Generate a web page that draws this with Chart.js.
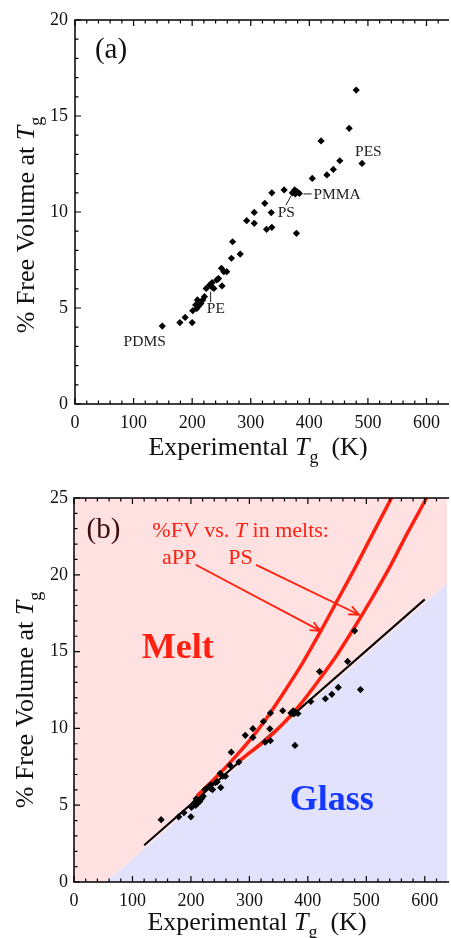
<!DOCTYPE html>
<html>
<head>
<meta charset="utf-8">
<script src="https://cdn.jsdelivr.net/npm/chart.js@4.4.1/dist/chart.umd.min.js"></script>
<style>
  body { margin: 0; background: #fff; }
  canvas { display: block; }
</style>
</head>
<body>
<canvas id="chart-a" width="451" height="470"></canvas>
<canvas id="chart-b" width="451" height="468"></canvas>
<script>
// experimental Tg (K) and % free volume at Tg, one entry per polymer
var tgK = [149, 179, 188, 200, 201, 206, 209, 211, 215, 218, 208, 221, 224, 230, 234,
           237, 234, 242, 245, 251, 250, 254, 259, 267, 269, 282, 293, 306, 306, 324,
           327, 335, 336, 336, 357, 371, 375, 376, 379, 383, 378, 405, 420, 430, 441,
           452, 468, 480, 490];
var freeVol = [4.06, 4.24, 4.51, 4.24, 4.86, 5.16, 5.42, 5.10, 5.24, 5.42, 4.98, 5.59, 6.02, 6.20, 6.08,
               6.02, 6.32, 6.46, 6.53, 6.15, 7.07, 6.89, 6.89, 7.59, 8.45, 7.81, 9.55, 9.41, 9.98, 10.45,
               9.10, 9.97, 9.20, 11.00, 11.15, 11.00, 11.15, 10.94, 11.06, 10.97, 8.89, 11.75, 13.70, 11.93, 12.22,
               12.67, 14.36, 16.35, 12.53];

// fitted line and melt curves (panel b)
var fitT = [120, 600];
var fitFV = [2.4, 18.4];
var appT = [210, 240, 270, 300, 330, 360, 390, 420, 450, 480, 510, 543, 550];
var appFV = [5.6, 6.7, 7.9, 9.2, 10.7, 12.4, 14.2, 16.2, 18.3, 20.4, 22.6, 25.0, 25.5];
var psT = [280, 300, 330, 360, 390, 420, 450, 480, 510, 540, 570, 603, 610];
var psFV = [7.8, 8.4, 9.3, 10.4, 11.7, 13.2, 14.8, 16.6, 18.5, 20.5, 22.7, 25.0, 25.5];
// melt / glass boundary
var edgeT = [0, 640];
var edgeFV = [-1.83, 19.5];

var xTicks = [0, 100, 200, 300, 400, 500, 600];
var yTicksA = [0, 5, 10, 15, 20];
var yTicksB = [0, 5, 10, 15, 20, 25];

var serif = '"Liberation Serif", "Times New Roman", serif';
var red = '#ff2010';

function pts(xs, ys) {
  return xs.map(function (x, i) { return { x: x, y: ys[i] }; });
}

function drawRuns(ctx, runs, x, y, align) {
  var widths = runs.map(function (r) { ctx.font = r.font; return ctx.measureText(r.text).width; });
  var total = widths.reduce(function (a, b) { return a + b; }, 0);
  var cx = align === 'center' ? x - total / 2 : x;
  ctx.textAlign = 'left';
  ctx.textBaseline = 'alphabetic';
  runs.forEach(function (r, i) {
    ctx.font = r.font;
    ctx.fillText(r.text, cx, y + (r.dy || 0));
    cx += widths[i];
  });
}

function tgRuns(prefix, suffix, size) {
  return [
    { text: prefix, font: size + 'px ' + serif },
    { text: 'T', font: 'italic ' + size + 'px ' + serif },
    { text: 'g', font: Math.round(size * 0.7) + 'px ' + serif, dy: size * 0.3 },
    { text: suffix, font: size + 'px ' + serif }
  ];
}

// frame with inward major/minor ticks, axis titles, annotations
var decor = {
  id: 'decor',
  afterDatasetsDraw: function (chart, args, o) {
    var ctx = chart.ctx, a = chart.chartArea, sx = chart.scales.x, sy = chart.scales.y;
    ctx.save();
    ctx.strokeStyle = '#000';
    ctx.lineWidth = 1.5;
    ctx.beginPath();
    ctx.moveTo(a.right + 2, a.top);
    ctx.lineTo(a.left, a.top);
    ctx.lineTo(a.left, a.bottom);
    ctx.lineTo(a.right + 2, a.bottom);
    ctx.stroke();
    ctx.lineWidth = 1.2;
    ctx.beginPath();
    var v, p, len;
    for (v = 0; v <= sx.max; v += 20) {
      p = sx.getPixelForValue(v);
      len = v % 100 === 0 ? 6 : 3.5;
      ctx.moveTo(p, a.bottom); ctx.lineTo(p, a.bottom - len);
      ctx.moveTo(p, a.top); ctx.lineTo(p, a.top + len);
    }
    for (v = 0; v <= sy.max; v += 1) {
      p = sy.getPixelForValue(v);
      len = v % 5 === 0 ? 6 : 3.5;
      ctx.moveTo(a.left, p); ctx.lineTo(a.left + len, p);
    }
    ctx.stroke();

    // axis titles
    ctx.fillStyle = '#111';
    drawRuns(ctx, tgRuns('Experimental ', '  (K)', 26), a.left + 183, a.bottom + o.xTitleGap, 'center');
    ctx.save();
    ctx.translate(o.yTitleX, (a.top + a.bottom) / 2 + o.yTitleShift);
    ctx.rotate(-Math.PI / 2);
    drawRuns(ctx, tgRuns('% Free Volume at ', '', 26), 0, 0, 'center');
    ctx.restore();

    // leader lines and arrows
    (o.lines || []).forEach(function (l) {
      var x1 = sx.getPixelForValue(l.from[0]), y1 = sy.getPixelForValue(l.from[1]);
      var x2 = sx.getPixelForValue(l.to[0]), y2 = sy.getPixelForValue(l.to[1]);
      ctx.strokeStyle = l.color;
      ctx.lineWidth = l.width;
      ctx.beginPath();
      ctx.moveTo(x1, y1); ctx.lineTo(x2, y2);
      if (l.arrow) {
        var ang = Math.atan2(y2 - y1, x2 - x1), h = 11;
        ctx.moveTo(x2 - h * Math.cos(ang - 0.42), y2 - h * Math.sin(ang - 0.42));
        ctx.lineTo(x2, y2);
        ctx.lineTo(x2 - h * Math.cos(ang + 0.42), y2 - h * Math.sin(ang + 0.42));
      }
      ctx.stroke();
    });

    (o.labels || []).forEach(function (t) {
      ctx.fillStyle = t.color || '#111';
      drawRuns(ctx, t.runs, sx.getPixelForValue(t.at[0]), sy.getPixelForValue(t.at[1]), 'left');
    });
    ctx.restore();
  }
};

function plain(text, size, color, weight, at) {
  return { runs: [{ text: text, font: (weight ? weight + ' ' : '') + size + 'px ' + serif }], color: color, at: at };
}

function axes(xMax, yMax, yTicks, xHeight, yWidth, yPad) {
  return {
    x: {
      type: 'linear', min: 0, max: xMax,
      grid: { display: false, drawTicks: false }, border: { display: false },
      ticks: { padding: 8, color: '#111', maxRotation: 0, font: { family: serif, size: 18 } },
      afterBuildTicks: function (s) { s.ticks = xTicks.map(function (v) { return { value: v }; }); },
      afterFit: function (s) { s.height = xHeight; }
    },
    y: {
      type: 'linear', min: 0, max: yMax,
      grid: { display: false, drawTicks: false }, border: { display: false },
      ticks: { padding: yPad, color: '#111', font: { family: serif, size: 18 } },
      afterBuildTicks: function (s) { s.ticks = yTicks.map(function (v) { return { value: v }; }); },
      afterFit: function (s) { s.width = yWidth; }
    }
  };
}

var pointSet = {
  type: 'scatter',
  data: pts(tgK, freeVol),
  pointStyle: 'rectRot',
  pointRadius: 3.6,
  backgroundColor: '#000',
  borderColor: '#000',
  borderWidth: 0,
  order: 0
};

new Chart(document.getElementById('chart-a'), {
  type: 'scatter',
  data: { datasets: [pointSet] },
  options: {
    responsive: false,
    animation: false,
    layout: { padding: { top: 20, right: 0, left: 0, bottom: 0 } },
    scales: axes(635, 20, yTicksA, 66, 75, 7),
    plugins: {
      legend: { display: false },
      tooltip: { enabled: false },
      decor: {
        xTitleGap: 51, yTitleX: 34, yTitleShift: 13,
        lines: [
          { from: [231.5, 5.85], to: [231.5, 5.3], color: '#222', width: 1 },
          { from: [360, 10.35], to: [369, 10.85], color: '#222', width: 1 },
          { from: [390, 10.94], to: [404, 10.94], color: '#222', width: 1 }
        ],
        labels: [
          plain('(a)', 29, '#111', '', [34, 18.0]),
          plain('PDMS', 15.5, '#222', '', [83, 3.04]),
          plain('PE', 15.5, '#222', '', [225, 4.72]),
          plain('PS', 15.5, '#222', '', [346, 9.72]),
          plain('PMMA', 15.5, '#222', '', [407, 10.68]),
          plain('PES', 15.5, '#222', '', [478, 12.92])
        ]
      }
    }
  },
  plugins: [decor]
});

var fvLabel = {
  runs: [
    { text: '%FV vs. ', font: '22px ' + serif },
    { text: 'T', font: 'italic 22px ' + serif },
    { text: ' in melts:', font: '22px ' + serif }
  ],
  color: red, at: [134, 22.46]
};

new Chart(document.getElementById('chart-b'), {
  type: 'scatter',
  data: {
    datasets: [
      { type: 'line', data: pts(edgeT, edgeFV), borderWidth: 0, pointRadius: 0,
        fill: 'start', backgroundColor: '#e2e2fd', order: 6 },
      { type: 'line', data: pts(edgeT, edgeFV), borderWidth: 0, pointRadius: 0,
        fill: 'end', backgroundColor: '#ffe1e1', order: 5 },
      { type: 'line', data: pts(fitT, fitFV), borderColor: '#000', borderWidth: 2,
        pointRadius: 0, fill: false, order: 3 },
      { type: 'line', data: pts(appT, appFV), borderColor: red, borderWidth: 3.5,
        pointRadius: 0, fill: false, cubicInterpolationMode: 'monotone', order: 2 },
      { type: 'line', data: pts(psT, psFV), borderColor: red, borderWidth: 3.5,
        pointRadius: 0, fill: false, cubicInterpolationMode: 'monotone', order: 2 },
      pointSet
    ]
  },
  options: {
    responsive: false,
    animation: false,
    layout: { padding: { top: 28, right: 0, left: 0, bottom: 0 } },
    scales: axes(638, 25, yTicksB, 56, 74, 6),
    plugins: {
      legend: { display: false },
      tooltip: { enabled: false },
      decor: {
        xTitleGap: 48, yTitleX: 33, yTitleShift: 10,
        lines: [
          { from: [208, 20.65], to: [421.5, 16.35], color: red, width: 1.8, arrow: true },
          { from: [311.5, 20.65], to: [487.5, 17.4], color: red, width: 1.8, arrow: true }
        ],
        labels: [
          plain('(b)', 29, '#3d0c0c', '', [21.5, 22.4]),
          fvLabel,
          plain('aPP', 22, red, '', [150.5, 20.7]),
          plain('PS', 22, red, '', [264, 20.7]),
          plain('Melt', 36, red, 'bold', [116, 14.58]),
          plain('Glass', 36, '#1438ff', 'bold', [369, 4.69])
        ]
      }
    }
  },
  plugins: [decor]
});
</script>
</body>
</html>
